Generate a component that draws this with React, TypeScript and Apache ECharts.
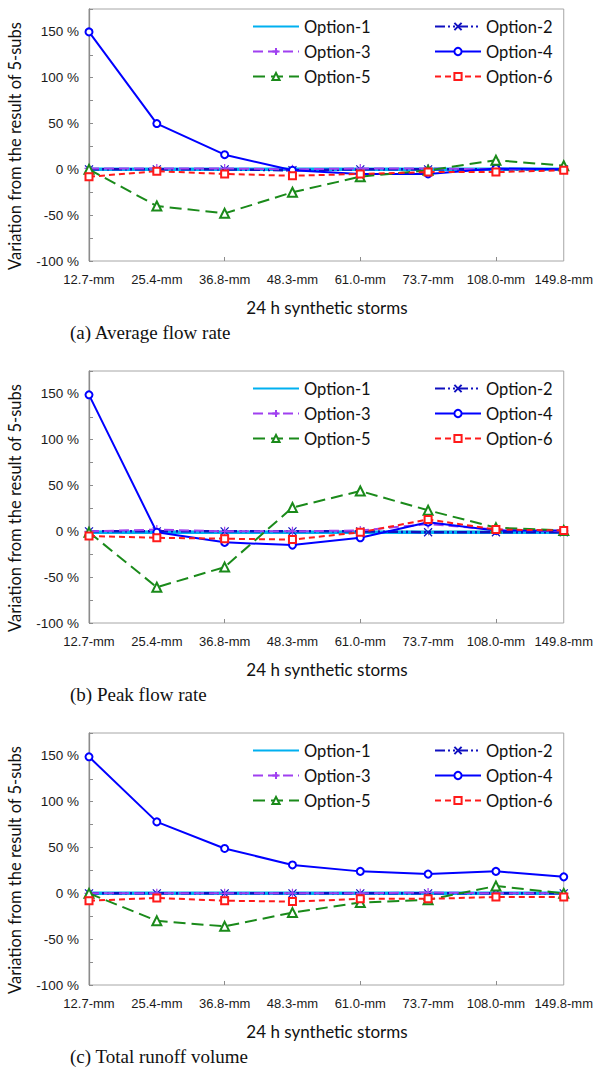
import React, { useEffect, useRef } from 'react';
import * as echarts from 'echarts';

const categories = ['12.7-mm', '25.4-mm', '36.8-mm', '48.3-mm', '61.0-mm', '73.7-mm', '108.0-mm', '149.8-mm'];
const optionNames = ['Option-1', 'Option-2', 'Option-3', 'Option-4', 'Option-5', 'Option-6'];
const yAxisTitle = 'Variation from the result of 5-subs';
const xAxisTitle = '24 h synthetic storms';
const captions = ['(a) Average flow rate', '(b) Peak flow rate', '(c) Total runoff volume'];

// (a) Average flow rate
const avgOpt1 = [0, 0, 0, 0, 0, 0, 0, 0];
const avgOpt2 = [0, 0, 0, -1, 0, 0, 0, 0];
const avgOpt3 = [1, 1, 1, 0, 1, 1, 0, 0];
const avgOpt4 = [150, 50, 16, -1, -5, -5, 1, 0];
const avgOpt5 = [0, -40, -48, -25, -8, -1, 10, 4];
const avgOpt6 = [-8, -2, -5, -7, -5, -3, -3, -1];

// (b) Peak flow rate
const peakOpt1 = [-1, -1, -1, -1, -1, -1, -1, -1];
const peakOpt2 = [0, 0, 0, 0, 0, -1, -1, -1];
const peakOpt3 = [0, 2, 0, 0, 1, 8, 2, 0];
const peakOpt4 = [149, -1, -12, -15, -7, 10, 1, 1];
const peakOpt5 = [-1, -61, -39, 26, 44, 23, 4, 1];
const peakOpt6 = [-5, -7, -8, -9, -1, 13, 2, 1];

// (c) Total runoff volume
const volOpt1 = [0, 0, 0, 0, 0, 0, 0, 0];
const volOpt2 = [0, 0, 0, 0, 0, 0, 0, 0];
const volOpt3 = [0, 0, 0, 0, 0, 1, 0, 0];
const volOpt4 = [149, 78, 49, 31, 24, 21, 24, 18];
const volOpt5 = [0, -30, -36, -21, -10, -7, 8, 0];
const volOpt6 = [-8, -5, -8, -9, -6, -6, -4, -4];

const panels = [
  [avgOpt1, avgOpt2, avgOpt3, avgOpt4, avgOpt5, avgOpt6],
  [peakOpt1, peakOpt2, peakOpt3, peakOpt4, peakOpt5, peakOpt6],
  [volOpt1, volOpt2, volOpt3, volOpt4, volOpt5, volOpt6],
];

const Y_MIN = -100;
const Y_MAX = 175;
const Y_STEP = 25;

const X_PATH = 'path://M0,0L10,10M10,0L0,10';
const PLUS_PATH = 'path://M5,0L5,10M0,5L10,5';

const seriesStyles = [
  { color: '#00B0F0', width: 3.5, type: 'solid' as any, symbol: 'none', size: 0, bw: 0 },
  { color: '#1010C0', width: 2.5, type: [10, 3, 2, 3, 2, 3], symbol: X_PATH, size: 8, bw: 1.2 },
  { color: '#A040F0', width: 2, type: [10, 5], symbol: PLUS_PATH, size: 9, bw: 1.2 },
  { color: '#0000FF', width: 2, type: 'solid' as any, symbol: 'emptyCircle', size: 7, bw: 1 },
  { color: '#1A8A1A', width: 2, type: [12, 6], symbol: 'emptyTriangle', size: 9, bw: 1 },
  { color: '#FF1A1A', width: 2, type: [6, 4], symbol: 'emptyRect', size: 7, bw: 1 },
];

const offsets = [0, 362, 724];
const AXIS_COLOR = '#8c8c8c';
const LABEL_FONT = '"Liberation Sans", Arial, sans-serif';
const TITLE_FONT = 'Lato, Calibri, sans-serif';

function legendItem(name: string) {
  if (name === 'Option-1') return { name, itemStyle: { opacity: 0 } };
  return { name };
}

export default function App() {
  const ref = useRef<HTMLDivElement>(null);

  useEffect(() => {
    if (!ref.current) return;
    const chart = echarts.init(ref.current, undefined, { renderer: 'svg' });

    const grid: any[] = [];
    const xAxis: any[] = [];
    const yAxis: any[] = [];
    const series: any[] = [];
    const legend: any[] = [];
    const graphic: any[] = [];

    offsets.forEach((off, i) => {
      grid.push({
        left: 89,
        width: 477,
        top: 9 + off,
        height: 252,
        show: true,
        borderColor: '#a6a6a6',
        borderWidth: 1,
        backgroundColor: 'transparent',
      });
      xAxis.push({
        type: 'category',
        gridIndex: i,
        data: categories,
        boundaryGap: false,
        position: 'bottom',
        axisLine: { show: true, lineStyle: { color: AXIS_COLOR, width: 1.3 } },
        axisTick: { show: true, length: 4, lineStyle: { color: AXIS_COLOR } },
        axisLabel: {
          interval: 0,
          margin: 12,
          color: '#1a1a1a',
          fontFamily: LABEL_FONT,
          fontSize: 13,
        },
        splitLine: { show: false },
      });
      xAxis.push({
        type: 'category',
        gridIndex: i,
        data: categories,
        boundaryGap: false,
        position: 'bottom',
        axisLine: { show: false },
        axisTick: { show: true, inside: true, length: 4, lineStyle: { color: AXIS_COLOR } },
        axisLabel: { show: false },
        splitLine: { show: false },
      });
      yAxis.push({
        type: 'value',
        gridIndex: i,
        min: Y_MIN,
        max: Y_MAX,
        interval: Y_STEP,
        axisLine: { show: true, lineStyle: { color: AXIS_COLOR, width: 1.3 } },
        axisTick: { show: true, inside: true, length: 4, lineStyle: { color: AXIS_COLOR } },
        splitLine: { show: false },
        axisLabel: {
          margin: 10,
          color: '#1a1a1a',
          fontFamily: LABEL_FONT,
          fontSize: 13.5,
          formatter: (v: number) => (v % 50 === 0 && v <= 150 ? `${v} %` : ''),
        },
      });

      panels[i].forEach((vals, j) => {
        const s = seriesStyles[j];
        series.push({
          type: 'line',
          name: optionNames[j],
          xAxisIndex: 2 * i,
          yAxisIndex: i,
          data: vals,
          symbol: s.symbol,
          symbolSize: s.size,
          showSymbol: s.symbol !== 'none',
          lineStyle: { color: s.color, width: s.width, type: s.type },
          itemStyle: { color: s.color, borderColor: s.color, borderWidth: s.bw },
          emphasis: { disabled: true },
          z: 2 + j,
        });
      });

      const legendCommon = {
        orient: 'vertical',
        top: 18 + off,
        padding: 0,
        itemGap: 8,
        itemWidth: 46,
        itemHeight: 9,
        textStyle: { fontFamily: TITLE_FONT, fontSize: 16.5, color: '#111' },
        selectedMode: false,
      };
      legend.push({
        ...legendCommon,
        left: 252,
        data: [optionNames[0], optionNames[2], optionNames[4]].map(legendItem),
      });
      legend.push({
        ...legendCommon,
        left: 434,
        data: [optionNames[1], optionNames[3], optionNames[5]].map(legendItem),
      });

      graphic.push({
        type: 'text',
        x: 15,
        y: 146 + off,
        rotation: Math.PI / 2,
        style: {
          text: yAxisTitle,
          fontFamily: TITLE_FONT,
          fontSize: 16.5,
          fill: '#111',
          align: 'center',
          verticalAlign: 'middle',
        },
      });
      graphic.push({
        type: 'text',
        x: 327,
        y: 307 + off,
        style: {
          text: xAxisTitle,
          fontFamily: TITLE_FONT,
          fontSize: 17,
          fill: '#111',
          align: 'center',
          verticalAlign: 'middle',
        },
      });
      graphic.push({
        type: 'text',
        x: 70,
        y: 332 + off,
        style: {
          text: captions[i],
          fontFamily: '"Liberation Serif", "Times New Roman", serif',
          fontSize: 19,
          fill: '#111',
          align: 'left',
          verticalAlign: 'middle',
        },
      });
    });

    chart.setOption({
      animation: false,
      backgroundColor: '#ffffff',
      grid,
      xAxis,
      yAxis,
      series,
      legend,
      graphic,
    });

    return () => chart.dispose();
  }, []);

  return (
    <div
      ref={ref}
      style={{ position: 'fixed', left: 0, top: 0, width: 596, height: 1067, background: '#fff' }}
    />
  );
}
